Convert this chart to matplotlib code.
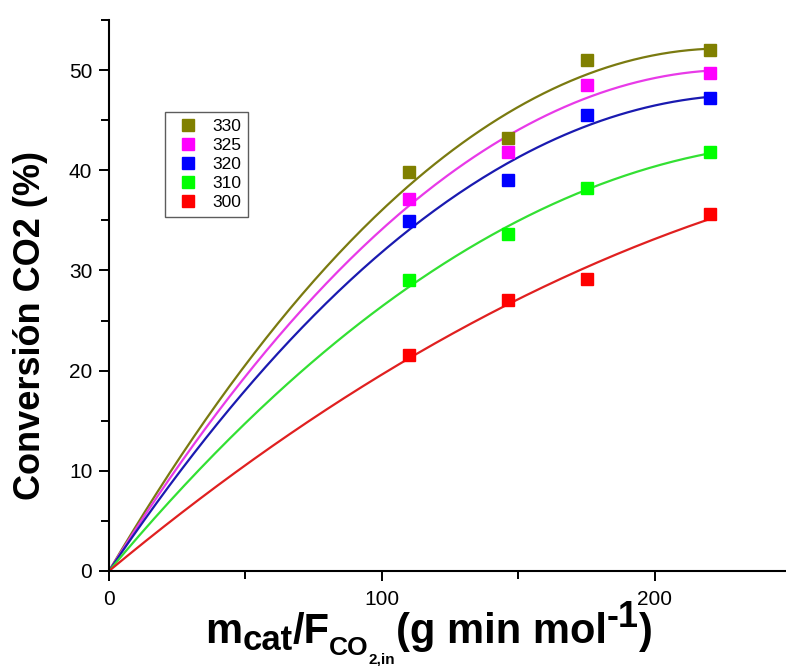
import numpy as np
import matplotlib
matplotlib.use("Agg")
import matplotlib.pyplot as plt
from matplotlib.transforms import IdentityTransform

plt.rcParams['font.family'] = ['Liberation Sans', 'DejaVu Sans']

x_data = [110, 146, 175, 220]
labels = ['330', '325', '320', '310', '300']
y330 = [39.8, 43.2, 51.0, 52.0]
y325 = [37.1, 41.8, 48.5, 49.7]
y320 = [34.9, 39.0, 45.5, 47.2]
y310 = [29.0, 33.6, 38.2, 41.8]
y300 = [21.6, 27.1, 29.1, 35.6]
series = [y330, y325, y320, y310, y300]
marker_colors = ['#808000', '#FF00FF', '#0000FF', '#00FF00', '#FF0000']
line_colors = ['#7a7a10', '#e83ae8', '#1a1ab0', '#33e033', '#e02020']

W, H = 786, 666
fig = plt.figure(figsize=(W / 100, H / 100), dpi=100)
ax = fig.add_axes([109 / W, (H - 571) / H, (W - 109) / W, (571 - 20) / H])

xd = np.array([0.0] + x_data)
xs = np.linspace(0, 220, 200)
handles = []
for ys, mc, lc, lab in zip(series, marker_colors, line_colors, labels):
    yd = np.array([0.0] + ys)
    A = np.vstack([xd, xd**2]).T
    coef, *_ = np.linalg.lstsq(A, yd, rcond=None)
    ax.plot(xs, coef[0]*xs + coef[1]*xs**2, color=lc, lw=1.6, zorder=2)
    h, = ax.plot(x_data, ys, 's', color=mc, ms=8.5, mec=mc, ls='none', label=lab, zorder=3)
    handles.append(h)

ax.set_xlim(0, 248)
ax.set_ylim(0, 55)
ax.set_xticks([0, 100, 200])
ax.set_xticks([50, 150], minor=True)
ax.set_yticks([0, 10, 20, 30, 40, 50])
ax.set_yticks([5, 15, 25, 35, 45, 55], minor=True)
for s in ['top', 'right']:
    ax.spines[s].set_visible(False)
for s in ['left', 'bottom']:
    ax.spines[s].set_linewidth(1.5)
ax.spines['left'].set_capstyle('projecting')
ax.tick_params(which='major', direction='out', length=7, width=1.4, labelsize=15)
ax.tick_params(which='minor', direction='out', length=6, width=1.4)
ax.tick_params(axis='y', which='major', pad=5)
ax.tick_params(axis='x', which='major', pad=7)

# y label
fig.text(31 / W, 1 - 325 / H, 'Conversión CO2 (%)', rotation=90, fontsize=26,
         fontweight='bold', ha='center', va='center')

# x label built from pieces (main text, subscripts, superscript)
pieces = [
    ('m', 30, 643),
    ('cat', 25, 650),
    ('/F', 30, 643),
    ('CO', 19, 655),
    ('2,in', 11, 664),
    ('(g min mol', 30, 643),
    ('-1', 26, 627),
    (')', 30, 643),
]
renderer = fig.canvas.get_renderer()
xpos = 205
for s, size, ybase in pieces:
    t = fig.text(xpos, H - ybase, s, fontsize=size, fontweight='bold',
                 ha='left', va='baseline', transform=IdentityTransform())
    bb = t.get_window_extent(renderer)
    xpos = bb.x1

leg = fig.legend(handles=handles, loc='upper left', bbox_to_anchor=(165 / W, 1 - 112 / H),
                 bbox_transform=fig.transFigure, borderaxespad=0,
                 fontsize=12.5, frameon=True, fancybox=False, handlelength=1.8,
                 handletextpad=0.5, labelspacing=0.22, borderpad=0.4, markerscale=0.95)
leg.get_frame().set_edgecolor('#333333')
leg.get_frame().set_linewidth(1.0)

fig.savefig('out.png', dpi=100)
